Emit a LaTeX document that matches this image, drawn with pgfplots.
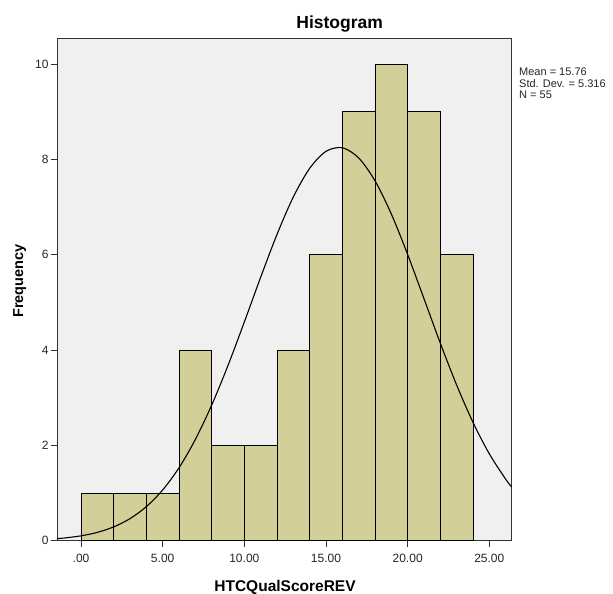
\documentclass[border=0pt]{standalone}
\usepackage{fontspec}
\setmainfont{Liberation Sans}
\usepackage{pgfplots}
\pgfplotsset{compat=1.18}
\definecolor{barfill}{HTML}{D3CF98}
\definecolor{plotbg}{HTML}{F0F0F0}
\begin{document}
\begin{tikzpicture}
\useasboundingbox (0,0) rectangle (613pt,594pt);
\fill[white] (0,0) rectangle (613pt,594pt);
\begin{axis}[
  at={(57pt,53.3pt)}, anchor=south west,
  scale only axis, width=454.7pt, height=502.7pt,
  xmin=-1.47, xmax=26.37, ymin=0, ymax=10.55,
  axis background/.style={fill=plotbg},
  axis line style={black!80, line width=0.8pt},
  xtick={0,5,10,15,20,25},
  xticklabels={.00,5.00,10.00,15.00,20.00,25.00},
  ytick={0,2,4,6,8,10},
  tick align=outside, major tick length=6pt,
  tick style={black!80, line width=0.8pt},
  xtick pos=bottom, ytick pos=left,
  ticklabel style={font=\fontsize{12}{12}\selectfont, text=black!85},
  xticklabel style={yshift=-4pt},
  yticklabel style={xshift=1pt},
  /pgf/number format/assume math mode=true,
]
\addplot[ybar interval, fill=barfill, draw=black, line width=0.7pt] coordinates {
  (0,1) (2,1) (4,1) (6,4) (8,2) (10,2) (12,4) (14,6) (16,9) (18,10) (20,9) (22,6) (24,6)
};
\addplot[black, line width=1.1pt, smooth, mark=none] coordinates {
  (-1.47,0.0432) (-1,0.0573) (0,0.1019) (1,0.1749) (2,0.2896) (3,0.4630)
  (4,0.7146) (5,1.0643) (6,1.5302) (7,2.1236) (8,2.8446) (9,3.6778)
  (10,4.5897) (11,5.5286) (12,6.4281) (13,7.2141) (14,7.8148) (15,8.1711)
  (16,8.2466) (17,8.0334) (18,7.5537) (19,6.8558) (20,6.0059)
  (21,5.0786) (22,4.1452) (23,3.2655) (24,2.4833) (25,1.8226) (26,1.2913)
  (26.37,1.1265)
};
\end{axis}
\node[anchor=base, font=\bfseries\fontsize{17.5}{18}\selectfont] at (339.7pt,565.7pt) {Histogram};
\node[anchor=base, font=\bfseries\fontsize{15.5}{16}\selectfont] at (285pt,2.3pt) {HTCQualScoreREV};
\node[anchor=base, rotate=90, font=\bfseries\fontsize{14.5}{15}\selectfont] at (23pt,313pt) {Frequency};
\node[anchor=base west, inner sep=0pt, font=\fontsize{11}{12}\selectfont, text=black!85] at (519pt,518pt) {Mean = 15.76};
\node[anchor=base west, inner sep=0pt, font=\fontsize{11}{12}\selectfont, text=black!85] at (519pt,506.5pt) {Std. Dev. = 5.316};
\node[anchor=base west, inner sep=0pt, font=\fontsize{11}{12}\selectfont, text=black!85] at (519pt,495pt) {N = 55};
\end{tikzpicture}
\end{document}
